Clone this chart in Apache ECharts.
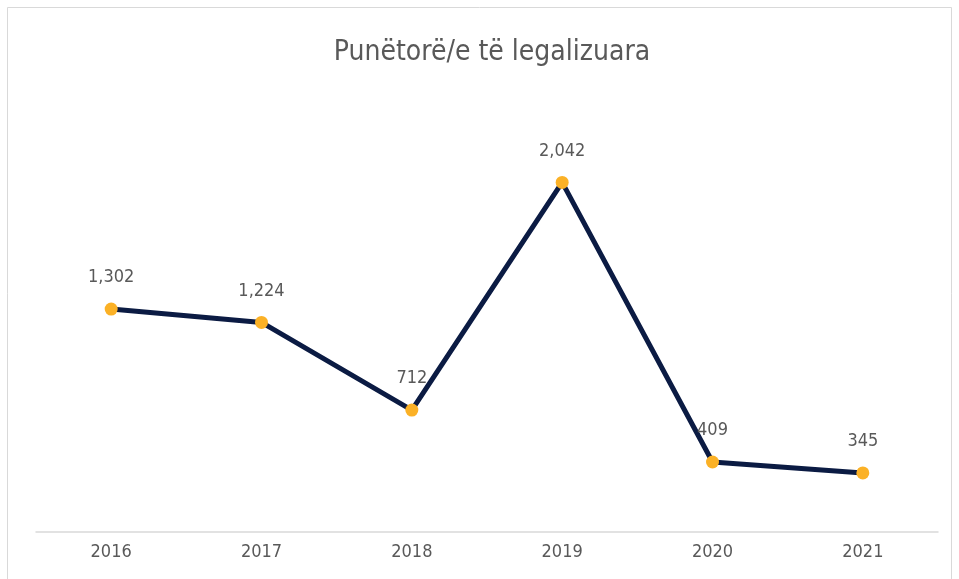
<!DOCTYPE html>
<html><head><meta charset="utf-8">
<script src="https://cdn.jsdelivr.net/npm/echarts@6/dist/echarts.min.js"></script>
<style>html,body{margin:0;padding:0;background:#fff}#c{width:959px;height:579px}</style>
</head><body><div id="c"></div>
<script>
const titleText = "Punëtorë/e të legalizuara";
const categories = ["2016","2017","2018","2019","2020","2021"];
const values = [1302, 1224, 712, 2042, 409, 345];
const FONT = "'Liberation Sans Narrow','DejaVu Sans Condensed','Roboto Condensed','Roboto',sans-serif";
const chart = echarts.init(document.getElementById('c'));
chart.setOption({
  animation: false,
  backgroundColor: '#fff',
  graphic: [{type:'rect', shape:{x:7.5,y:7.5,width:944,height:590}, style:{fill:'none', stroke:'#d9d9d9', lineWidth:1}, silent:true}],
  title: {text: titleText, left: 487, top: 34, textAlign: 'center',
    textStyle: {fontFamily: FONT, fontSize: 28, fontWeight: 'normal', color: '#595959'}},
  grid: {left: 36, right: 21, top: 104, bottom: 47},
  xAxis: {type:'category', data: categories, boundaryGap: true,
    axisLine:{lineStyle:{color:'#d9d9d9', width:1.5}}, axisTick:{show:false},
    axisLabel:{fontFamily: FONT, fontSize: 18, color:'#595959', margin: 11}},
  yAxis: {type:'value', min:0, max:2500, show:false, splitLine:{show:false}},
  series: [{type:'line', data: values, symbol:'circle', symbolSize: 13,
    lineStyle:{color:'#0b1b43', width:5},
    itemStyle:{color:'#fbb126', borderWidth:0},
    label:{show:true, position:'top', distance: 16, fontFamily: FONT, fontSize: 18, color:'#595959',
      formatter: p => p.value.toLocaleString('en-US')},
    z: 3}]
});
</script></body></html>
